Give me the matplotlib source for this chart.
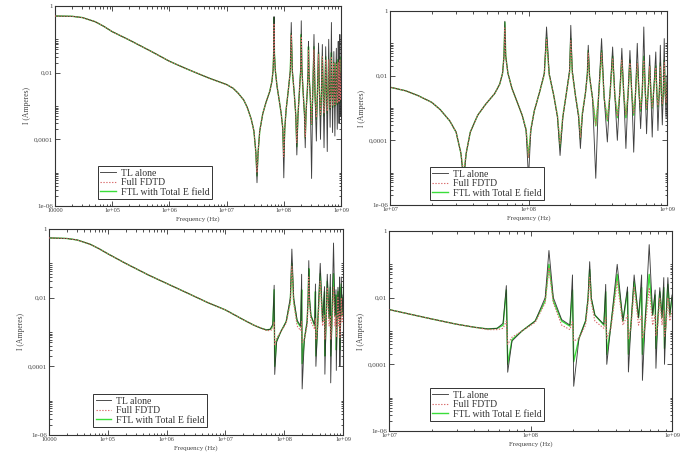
import numpy as np
import matplotlib
matplotlib.use("Agg")
import matplotlib.pyplot as plt
from matplotlib.ticker import FixedLocator, NullFormatter, LogLocator

plt.rcParams['font.family'] = ['Liberation Serif', 'DejaVu Serif']

# ---- case 1 (top row): frequency in Hz, current in A ----
f_top = [1e4, 2e4, 3e4, 5e4, 7e4, 1e5, 2e5, 5e5, 1e6, 2e6, 5e6,
         1e7, 1.3e7, 1.6e7, 2e7, 2.3e7, 2.7e7, 3.0e7, 3.25e7,
         3.4e7, 3.55e7, 3.8e7, 4.3e7, 4.9e7, 5.7e7, 6.2e7, 6.5e7, 6.65e7,
         6.75e7, 6.85e7, 7.1e7, 7.6e7, 8.3e7, 9.0e7, 9.6e7,
         1.0e8, 1.04e8, 1.1e8, 1.2e8, 1.3e8,
         1.35e8, 1.41e8, 1.52e8, 1.62e8,
         1.69e8, 1.77e8, 1.88e8, 1.98e8,
         2.02e8, 2.07e8, 2.18e8, 2.3e8,
         2.37e8, 2.45e8, 2.58e8, 2.66e8,
         2.70e8, 2.76e8, 2.9e8,
         3.06e8, 3.2e8, 3.37e8, 3.52e8,
         3.71e8, 3.87e8, 4.05e8, 4.2e8,
         4.38e8, 4.55e8, 4.72e8, 4.88e8,
         5.05e8, 5.23e8, 5.4e8, 5.58e8,
         5.75e8, 5.93e8, 6.1e8, 6.28e8,
         6.45e8, 6.62e8, 6.8e8, 6.97e8,
         7.12e8, 7.3e8, 7.5e8, 7.65e8,
         7.82e8, 8.0e8, 8.3e8, 8.45e8,
         8.6e8, 8.8e8, 8.95e8, 9.1e8,
         9.25e8, 9.4e8, 9.55e8, 9.7e8,
         9.85e8, 1e9]
tl_top = [0.50, 0.49, 0.45, 0.34, 0.25, 0.17, 0.095, 0.042, 0.022, 0.013, 0.0068,
          0.0044, 0.0034, 0.0024, 0.0015, 9e-4, 4e-4, 1.8e-4, 4e-5,
          5e-6, 4e-5, 1.8e-4, 6e-4, 1.3e-3, 2.8e-3, 5.5e-3, 0.012, 0.04,
          0.48, 0.04, 0.012, 4e-3, 1.5e-3, 6e-4, 2e-4,
          7e-6, 2e-4, 8e-4, 3e-3, 0.012,
          0.32, 0.012, 2.5e-3, 5e-4,
          3.4e-5, 5e-4, 3e-3, 0.015,
          0.36, 0.015, 2.5e-3, 5e-4,
          5.6e-5, 6e-4, 3e-3, 0.012,
          0.087, 0.01, 2e-3,
          6.7e-6, 2e-3, 0.14, 2e-3,
          8.9e-5, 2.5e-3, 0.077, 2.5e-3,
          1e-4, 2.5e-3, 0.07, 2.5e-3,
          5.6e-5, 2.5e-3, 0.06, 2.5e-3,
          4.3e-5, 3e-3, 0.1, 3e-3,
          2.3e-4, 3e-3, 0.32, 3e-3,
          1.6e-4, 3e-3, 0.043, 3e-3,
          1.26e-4, 3e-3, 0.054, 3e-3,
          2e-4, 3e-3, 0.087, 3e-3,
          3e-4, 3e-3, 0.14, 3e-3,
          5e-4, 0.01]
fdtd_top = [0.50, 0.49, 0.45, 0.34, 0.25, 0.17, 0.095, 0.042, 0.022, 0.013, 0.0068,
            0.0044, 0.0034, 0.0024, 0.0015, 9e-4, 4e-4, 1.8e-4, 4e-5,
            1e-5, 4e-5, 1.8e-4, 6e-4, 1.3e-3, 2.8e-3, 5.5e-3, 0.012, 0.035,
            0.3, 0.035, 0.012, 4e-3, 1.5e-3, 6e-4, 2.2e-4,
            3e-5, 2.2e-4, 8e-4, 3e-3, 0.011,
            0.14, 0.011, 2.5e-3, 5.5e-4,
            8e-5, 5.5e-4, 3e-3, 0.012,
            0.12, 0.012, 2.5e-3, 6e-4,
            1.2e-4, 7e-4, 3e-3, 0.01,
            0.05, 0.009, 2e-3,
            3e-4, 2e-3, 0.05, 2e-3,
            4.5e-4, 2.5e-3, 0.035, 2.5e-3,
            5.5e-4, 2.5e-3, 0.03, 2.5e-3,
            6e-4, 2.5e-3, 0.025, 2.5e-3,
            7e-4, 3e-3, 0.025, 3e-3,
            9e-4, 3e-3, 0.03, 3e-3,
            1e-3, 3e-3, 0.02, 3e-3,
            1.1e-3, 3e-3, 0.018, 3e-3,
            1.2e-3, 3e-3, 0.02, 3e-3,
            1.3e-3, 3e-3, 0.025, 3e-3,
            1.5e-3, 6e-3]
ftl_top = [0.50, 0.49, 0.45, 0.34, 0.25, 0.17, 0.095, 0.042, 0.022, 0.013, 0.0068,
           0.0044, 0.0034, 0.0024, 0.0015, 9e-4, 4e-4, 1.8e-4, 4e-5,
           8e-6, 4e-5, 1.8e-4, 6e-4, 1.3e-3, 2.8e-3, 5.5e-3, 0.012, 0.04,
           0.45, 0.04, 0.012, 4e-3, 1.5e-3, 6e-4, 2.2e-4,
           3e-5, 2.2e-4, 8e-4, 3e-3, 0.011,
           0.15, 0.011, 2.5e-3, 5.5e-4,
           6e-5, 5.5e-4, 3e-3, 0.013,
           0.14, 0.013, 2.5e-3, 6e-4,
           1.1e-4, 7e-4, 3e-3, 0.011,
           0.06, 0.009, 2e-3,
           2.8e-4, 2e-3, 0.06, 2e-3,
           4e-4, 2.5e-3, 0.04, 2.5e-3,
           5e-4, 2.5e-3, 0.03, 2.5e-3,
           5e-4, 2.5e-3, 0.03, 2.5e-3,
           6e-4, 3e-3, 0.025, 3e-3,
           8e-4, 3e-3, 0.04, 3e-3,
           9e-4, 3e-3, 0.02, 3e-3,
           1e-3, 3e-3, 0.02, 3e-3,
           1.1e-3, 3e-3, 0.025, 3e-3,
           1.2e-3, 3e-3, 0.03, 3e-3,
           1.3e-3, 6e-3]

# ---- case 2 (bottom row) ----
f_bot = [1e4, 2e4, 3e4, 5e4, 7e4, 1e5, 2e5, 5e5, 1e6, 2e6, 5e6,
         1e7, 2e7, 3e7, 4e7, 5e7, 5.8e7, 6.4e7,
         6.75e7, 6.9e7, 7.4e7, 8.7e7, 1.08e8, 1.27e8,
         1.35e8, 1.45e8, 1.66e8, 1.9e8,
         1.98e8, 2.02e8, 2.2e8, 2.45e8,
         2.55e8, 2.62e8, 2.69e8, 2.85e8, 3.3e8,
         3.4e8, 3.46e8, 3.7e8,
         4.1e8, 4.5e8,
         4.85e8, 4.92e8, 5.15e8,
         5.4e8, 5.8e8,
         6.1e8, 6.18e8, 6.5e8,
         6.9e8, 7.3e8,
         7.6e8, 7.7e8, 7.95e8,
         8.2e8, 8.5e8,
         8.75e8, 8.85e8, 9.1e8,
         9.35e8, 9.65e8, 1e9]
tl_bot = [0.55, 0.53, 0.48, 0.36, 0.27, 0.19, 0.10, 0.045, 0.026, 0.015, 0.0072,
          0.0044, 0.0023, 0.0016, 0.0013, 0.00115, 0.0012, 0.0017,
          0.023, 5.8e-5, 5e-4, 1e-3, 2e-3, 0.01,
          0.26, 0.01, 2.2e-3, 1.5e-3,
          0.048, 2.2e-5, 6e-4, 2e-3,
          0.01, 0.12, 0.01, 3e-3, 1.6e-3,
          0.025, 1e-4, 1.5e-3,
          0.1, 2e-3,
          0.021, 5.9e-5, 2e-3,
          0.048, 2.5e-3,
          0.048, 3.3e-5, 3e-3,
          0.39, 3e-3,
          0.017, 7.6e-5, 2.5e-3,
          0.02, 2.5e-3,
          0.04, 1e-4, 3e-3,
          0.04, 3e-3, 0.012]
fdtd_bot = [0.55, 0.53, 0.48, 0.36, 0.27, 0.19, 0.10, 0.045, 0.026, 0.015, 0.0072,
            0.0044, 0.0023, 0.0016, 0.0013, 0.0011, 0.0011, 0.0012,
            0.002, 4e-4, 6.5e-4, 1e-3, 1.8e-3, 0.007,
            0.08, 0.007, 1.5e-3, 1.1e-3,
            2e-3, 5e-4, 6e-4, 1.5e-3,
            0.007, 0.04, 0.007, 2e-3, 1.2e-3,
            2.5e-3, 6e-4, 1.2e-3,
            0.03, 1.5e-3,
            3e-3, 6e-4, 1.5e-3,
            0.02, 1.5e-3,
            3e-3, 6e-4, 1.5e-3,
            0.02, 1.5e-3,
            3e-3, 7e-4, 1.5e-3,
            0.01, 1.5e-3,
            4e-3, 7e-4, 1.5e-3,
            0.01, 2e-3, 4e-3]
ftl_bot = [0.55, 0.53, 0.48, 0.36, 0.27, 0.19, 0.10, 0.045, 0.026, 0.015, 0.0072,
           0.0044, 0.0023, 0.0016, 0.0013, 0.00115, 0.0012, 0.0015,
           0.017, 1e-4, 5.5e-4, 1e-3, 2e-3, 0.008,
           0.1, 0.008, 2e-3, 1.4e-3,
           0.017, 1.2e-4, 6e-4, 2e-3,
           0.009, 0.07, 0.009, 3e-3, 1.5e-3,
           0.015, 2e-4, 1.5e-3,
           0.05, 2e-3,
           0.015, 2e-4, 2e-3,
           0.03, 2.5e-3,
           0.02, 2e-4, 3e-3,
           0.05, 3e-3,
           0.012, 3e-4, 2.5e-3,
           0.015, 2.5e-3,
           0.02, 3e-4, 3e-3,
           0.025, 3e-3, 0.01]

series_names = ['TL alone', 'Full FDTD', 'FTL with Total E field']
y_ticks = [1e-6, 1e-4, 1e-2, 1]
y_ticklabels = ['1e-06', '0,0001', '0,01', '1']
x_ticks_wide = [1e4, 1e5, 1e6, 1e7, 1e8, 1e9]
x_ticklabels_wide = ['10000', '1e+05', '1e+06', '1e+07', '1e+08', '1e+09']
x_ticks_zoom = [1e7, 1e8, 1e9]
x_ticklabels_zoom = ['1e+07', '1e+08', '1e+09']

W, H = 699, 454
fig = plt.figure(figsize=(W / 100, H / 100), dpi=100)


def make_axes(l, r, t, b):
    return fig.add_axes([l / W, 1 - b / H, (r - l) / W, (b - t) / H])


def draw_panel(ax, f, tl, fdtd, ftl, xticks, xlabels, leg_pos):
    ax.plot(f, tl, color='#2b2b2b', lw=0.65, alpha=0.9,
            label=series_names[0], zorder=3)
    ax.plot(f, fdtd, color='#d86a6a', lw=0.8, ls=(0, (1.2, 1.4)),
            label=series_names[1], zorder=4)
    ax.plot(f, ftl, color='#3ade3a', lw=1.0, label=series_names[2], zorder=2)
    ax.set_xscale('log')
    ax.set_yscale('log')
    ax.set_xlim(xticks[0], xticks[-1])
    ax.set_ylim(1e-6, 1)

    ax.set_xticks(xticks)
    ax.set_xticklabels(xlabels, fontsize=4.6)
    ax.xaxis.set_minor_locator(LogLocator(base=10, subs=np.arange(2, 10)))
    ax.xaxis.set_minor_formatter(NullFormatter())
    ax.set_yticks(y_ticks)
    ax.set_yticklabels(y_ticklabels, fontsize=5)
    # grace style: minor ticks only in the decade above each labelled one
    yminor = [m * 10.0 ** k for k in (-6, -4, -2) for m in range(2, 11)]
    ax.yaxis.set_minor_locator(FixedLocator(yminor))
    ax.yaxis.set_minor_formatter(NullFormatter())
    ax.tick_params(which='both', direction='in', top=True, right=True,
                   width=0.6, pad=1.5, colors='#333333', labelcolor='#444444')
    ax.tick_params(which='major', length=3.5)
    ax.tick_params(which='minor', length=1.8)
    for s in ax.spines.values():
        s.set_linewidth(0.8)
        s.set_color('#333333')

    ax.set_xlabel('Frequency (Hz)', fontsize=5, labelpad=2, color='#444444')
    ax.set_ylabel('I (Amperes)', fontsize=5.5, labelpad=2, color='#444444')

    leg = ax.legend(loc='lower left', bbox_to_anchor=leg_pos, fontsize=7,
                    fancybox=False, framealpha=1, edgecolor='#333333',
                    handlelength=1.6, handletextpad=0.5, labelspacing=0.05,
                    borderpad=0.25, borderaxespad=0)
    leg.get_frame().set_linewidth(0.7)
    for txt in leg.get_texts():
        txt.set_color('#333333')


ax1 = make_axes(55, 341, 6, 206)
draw_panel(ax1, f_top, tl_top, fdtd_top, ftl_top,
           x_ticks_wide, x_ticklabels_wide, (0.15, 0.035))

ax2 = make_axes(390, 667, 11, 205)
draw_panel(ax2, f_top, tl_top, fdtd_top, ftl_top,
           x_ticks_zoom, x_ticklabels_zoom, (0.144, 0.026))

ax3 = make_axes(49, 343, 229, 435)
draw_panel(ax3, f_bot, tl_bot, fdtd_bot, ftl_bot,
           x_ticks_wide, x_ticklabels_wide, (0.15, 0.039))

ax4 = make_axes(389, 672, 231, 431)
draw_panel(ax4, f_bot, tl_bot, fdtd_bot, ftl_bot,
           x_ticks_zoom, x_ticklabels_zoom, (0.145, 0.05))

fig.savefig('out.png', dpi=100)
